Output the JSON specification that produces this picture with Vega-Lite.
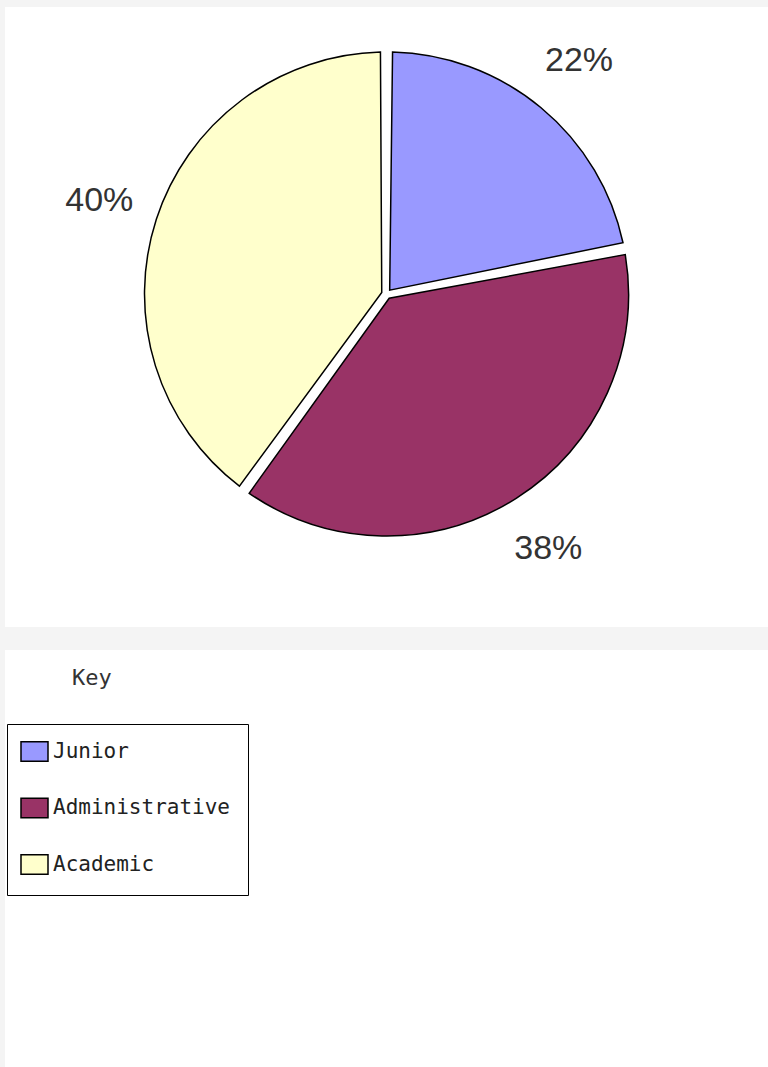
{
  "$schema": "https://vega.github.io/schema/vega-lite/v6.json",
  "background": "#f4f4f4",
  "padding": {"left": 5, "top": 7, "right": 0, "bottom": 0},
  "spacing": 23,
  "data": {"values": [
    {"category": "Junior", "share": 0.22},
    {"category": "Administrative", "share": 0.38},
    {"category": "Academic", "share": 0.40}
  ]},
  "resolve": {"scale": {"color": "shared"}, "legend": {"color": "shared"}},
  "vconcat": [
    {
      "width": 763,
      "height": 620,
      "layer": [
        {
          "mark": {"type": "rect", "fill": "white", "stroke": null},
          "encoding": {}
        },
        {
          "mark": {"type": "arc", "outerRadius": 242, "innerRadius": 5, "padAngle": 0.05, "stroke": "black", "strokeWidth": 1.5, "yOffset": -23},
          "encoding": {
            "theta": {"field": "share", "type": "quantitative", "stack": true},
            "order": {"field": "category", "sort": "descending"},
            "color": {
              "field": "category", "type": "nominal",
              "scale": {"domain": ["Junior", "Administrative", "Academic"], "range": ["#9999ff", "#993366", "#ffffcc"]},
              "legend": {
                "orient": "none", "legendX": 2, "legendY": 717, "title": null,
                "symbolType": "M-1.4,-1H1.4V1H-1.4Z", "symbolSize": 372,
                "symbolStrokeColor": "black", "symbolStrokeWidth": 1.5, "symbolOpacity": 1,
                "labelFont": "DejaVu Sans Mono", "labelFontSize": 21, "labelColor": "#222", "labelOffset": 8, "labelLimit": 400,
                "rowPadding": 29.5, "padding": 17, "strokeColor": "black", "fillColor": "white"
              }
            }
          }
        },
        {
          "mark": {"type": "text", "radius": 302, "font": "Liberation Sans", "fontSize": 34, "color": "#333", "align": "center", "baseline": "middle", "yOffset": -23},
          "encoding": {
            "theta": {"field": "share", "type": "quantitative", "stack": true},
            "order": {"field": "category", "sort": "descending"},
            "text": {"field": "share", "type": "quantitative", "format": ".0%"}
          }
        }
      ]
    },
    {
      "width": 763,
      "height": 417,
      "title": {"text": "Key", "orient": "top", "anchor": "start", "frame": "group", "offset": -57, "dx": 67, "baseline": "alphabetic", "font": "DejaVu Sans Mono", "fontSize": 22, "fontWeight": "normal", "color": "#333"},
      "mark": {"type": "rect", "fill": "white", "stroke": null},
      "encoding": {}
    }
  ],
  "config": {
    "view": {"stroke": null}
  }
}
